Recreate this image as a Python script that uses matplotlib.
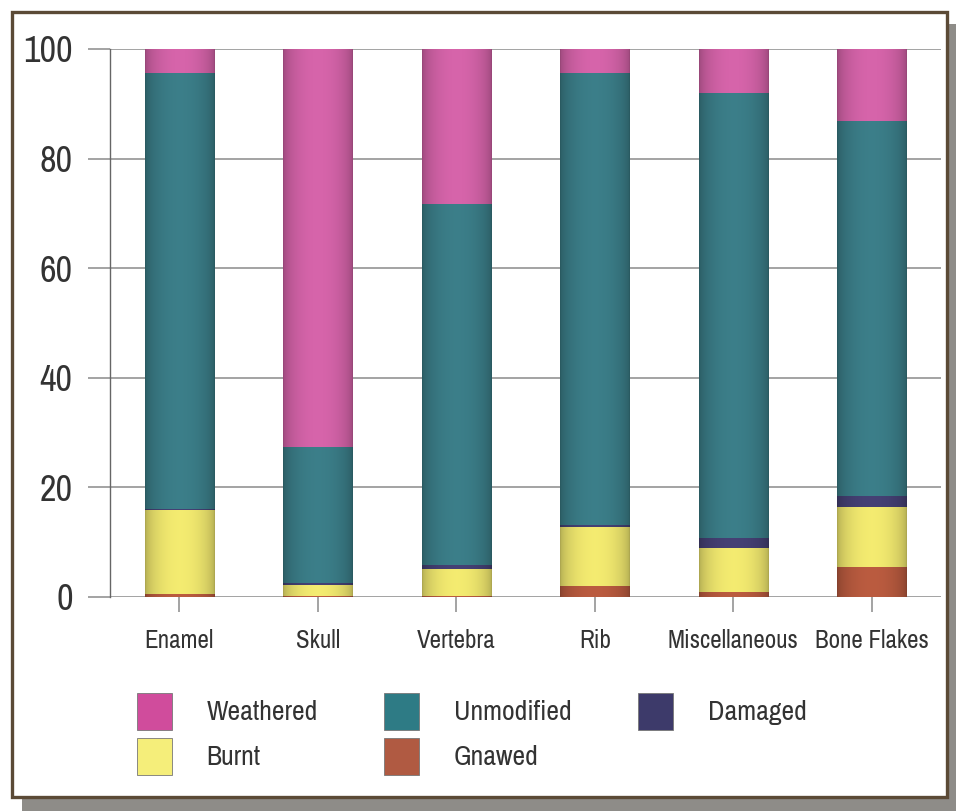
"""
stacked bone surface modification percentages
"""

import numpy as np
import matplotlib.pyplot as plt
from matplotlib.colors import to_rgb
from matplotlib.patches import Rectangle, Patch

categories = ["Enamel", "Skull", "Vertebra", "Rib", "Miscellaneous", "Bone Flakes"]
gnawed = [0.5, 0.2, 0.2, 2.0, 0.9, 5.5]
burnt = [15.3, 2.0, 4.9, 10.8, 8.0, 10.9]
damaged = [0.3, 0.3, 0.8, 0.3, 1.9, 2.0]
unmodified = [79.5, 24.9, 65.8, 82.5, 81.2, 68.5]
weathered = [4.4, 72.6, 28.3, 4.4, 8.0, 13.1]

# bottom to top
series = [
    ("Gnawed", gnawed, "#ad553b"),
    ("Burnt", burnt, "#e2da68"),
    ("Damaged", damaged, "#403c6c"),
    ("Unmodified", unmodified, "#37757f"),
    ("Weathered", weathered, "#c75d9e"),
]
legend_cols = {"Weathered": "#d04c9c", "Unmodified": "#2e7b85", "Damaged": "#3d3a6a",
               "Burnt": "#f5ee7a", "Gnawed": "#b05a42"}
legend_order = ["Weathered", "Burnt", "Unmodified", "Gnawed", "Damaged"]

narrow = ["Archivo Narrow", "Liberation Sans", "DejaVu Sans"]

W, H = 956, 811
fig = plt.figure(figsize=(W / 100, H / 100), dpi=100)
fig.patch.set_facecolor("white")

# drop shadow + frame
fig.add_artist(Rectangle((22 / W, 0), (W - 22) / W, 1 - 24 / H, transform=fig.transFigure,
                         facecolor="#8e8c88", edgecolor="none", zorder=-3))
fig.add_artist(Rectangle((12 / W, 1 - 797 / H), 935 / W, 785 / H, transform=fig.transFigure,
                         facecolor="white", edgecolor="#5b4a36", linewidth=2.4, zorder=-2))

ax = fig.add_axes([110 / W, 1 - 597 / H, 831 / W, 548 / H])
ax.set_facecolor("none")

x = np.arange(len(categories))
width = 0.5

# cylinder-like shading across each bar
t = np.linspace(0, 1, 80)
shade = 0.76 + 0.32 * np.sin(np.pi * t) ** 0.5

bottom = np.zeros(len(categories))
for name, vals, col in series:
    vals = np.array(vals)
    bars = ax.bar(x, vals, width, bottom=bottom, color=col, edgecolor="none", zorder=2)
    base = np.array(to_rgb(col))
    img = np.clip(shade[:, None] * base[None, :], 0, 1)[None, :, :]
    for r in bars:
        if r.get_height() <= 0:
            continue
        ax.imshow(img, extent=[r.get_x(), r.get_x() + r.get_width(),
                               r.get_y(), r.get_y() + r.get_height()],
                  aspect="auto", interpolation="bilinear", zorder=3)
    bottom += vals

ax.set_xlim(-0.5, len(categories) - 0.5)
ax.set_ylim(0, 100)
ax.set_yticks(range(0, 101, 20))
ax.set_xticks(x)
ax.set_xticklabels(categories, family=narrow, fontsize=18, color="#333333")
for lab in ax.get_yticklabels():
    lab.set_family(narrow)
    lab.set_fontsize(26)
    lab.set_color("#333333")

ax.yaxis.grid(True, color="#8a8a8a", linewidth=1.1, zorder=0)
ax.set_axisbelow(True)
ax.tick_params(axis="y", length=16, width=1.1, color="#8a8a8a", pad=11)
ax.tick_params(axis="x", length=11, width=1.1, color="#8a8a8a", pad=12)
for s in ["top", "right", "bottom"]:
    ax.spines[s].set_visible(False)
ax.spines["left"].set_color("#666666")
ax.spines["left"].set_linewidth(1.0)

handles = [Patch(facecolor=legend_cols[n], edgecolor="#777777", linewidth=0.6)
           for n in legend_order]
fig.legend(handles, legend_order, loc="upper left", ncol=3,
           bbox_to_anchor=(137 / W, 1 - 693 / H), bbox_transform=fig.transFigure,
           frameon=False, borderpad=0, borderaxespad=0,
           handlelength=1.25, handleheight=1.65, handletextpad=1.25,
           columnspacing=2.4, labelspacing=0.3,
           prop={"family": narrow, "size": 20}, labelcolor="#333333")

fig.savefig("out.png", dpi=100)
